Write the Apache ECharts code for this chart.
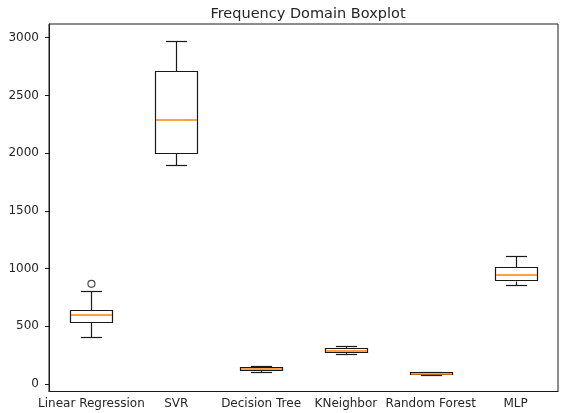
<!DOCTYPE html>
<html>
<head>
<meta charset="utf-8">
<script src="https://cdn.jsdelivr.net/npm/echarts@6/dist/echarts.min.js"></script>
<style>
  html, body { margin: 0; padding: 0; background: #fff; }
  #main { width: 561px; height: 413px; }
</style>
</head>
<body>
<div id="main"></div>
<script>
// 数据：每个模型的 [下须, Q1, 中位数, Q3, 上须]
var models = ['Linear Regression', 'SVR', 'Decision Tree', 'KNeighbor', 'Random Forest', 'MLP'];
var lowWhisker = [403, 1899, 108, 257, 80, 858];
var q1Values = [537, 2006, 122, 280, 82, 895];
var medians = [600, 2284, 134, 290, 88, 947];
var q3Values = [645, 2714, 148, 316, 100, 1011];
var highWhisker = [803, 2970, 155, 332, 104, 1109];
var outliers = [[0, 868]];
var yTicks = [0, 500, 1000, 1500, 2000, 2500, 3000];

var boxData = [];
for (var i = 0; i < models.length; i++) {
	boxData.push([i, lowWhisker[i], q1Values[i], medians[i], q3Values[i], highWhisker[i]]);
}

var fontName = 'DejaVu Sans';
var textColor = '#262626';

// 画箱线图（matplotlib 风格：须端短横线为箱宽一半，中位线橙色）
function renderBox(params, api) {
	var x = api.value(0);
	var low = api.coord([x, api.value(1)]);
	var q1 = api.coord([x, api.value(2)]);
	var med = api.coord([x, api.value(3)]);
	var q3 = api.coord([x, api.value(4)]);
	var high = api.coord([x, api.value(5)]);
	var band = api.size([1, 0])[0];
	var halfBox = band * 0.25;
	var halfCap = band * 0.125;
	var cx = Math.round(low[0]) + 0.5;
	function r(v) { return Math.round(v) + 0.5; }
	var line = { stroke: '#1a1a1a', lineWidth: 1.2, fill: null };
	var left = r(cx - halfBox);
	var w = Math.round(halfBox * 2);
	return {
		type: 'group',
		children: [
			{ type: 'line', shape: { x1: cx, y1: r(q3[1]), x2: cx, y2: r(high[1]) }, style: line },
			{ type: 'line', shape: { x1: cx, y1: r(q1[1]), x2: cx, y2: r(low[1]) }, style: line },
			{ type: 'line', shape: { x1: cx - halfCap, y1: r(high[1]), x2: cx + halfCap, y2: r(high[1]) }, style: line },
			{ type: 'line', shape: { x1: cx - halfCap, y1: r(low[1]), x2: cx + halfCap, y2: r(low[1]) }, style: line },
			{ type: 'rect', shape: { x: left, y: r(q3[1]), width: w, height: Math.round(q1[1] - q3[1]) },
				style: { stroke: '#1a1a1a', lineWidth: 1.2, fill: '#fff' } },
			{ type: 'line', shape: { x1: left + 0.5, y1: Math.round(med[1]), x2: left + w - 0.5, y2: Math.round(med[1]) },
				style: { stroke: '#ff7f0e', lineWidth: 1.6 } }
		]
	};
}

var myChart = echarts.init(document.getElementById('main'));
var option = {
	animation: false,
	title: {
		text: 'Frequency Domain Boxplot',
		left: 303,
		top: 2,
		textAlign: 'center',
		textStyle: { fontFamily: fontName, fontSize: 14.5, fontWeight: 'normal', color: textColor }
	},
	grid: {
		left: 49,
		right: 3,
		top: 24,
		bottom: 21.5,
		show: true,
		borderColor: '#1a1a1a',
		borderWidth: 1,
		backgroundColor: 'transparent'
	},
	xAxis: {
		type: 'category',
		data: models,
		axisLine: { onZero: false, lineStyle: { color: '#1a1a1a', width: 1 } },
		axisTick: { alignWithLabel: true, length: 4, lineStyle: { color: '#1a1a1a' } },
		axisLabel: { margin: 6, fontFamily: fontName, fontSize: 12, color: textColor, interval: 0 },
		splitLine: { show: false }
	},
	yAxis: {
		type: 'value',
		min: -65,
		max: 3119,
		axisLine: { show: true, lineStyle: { color: '#1a1a1a', width: 1 } },
		axisTick: { show: true, length: 4, customValues: yTicks, lineStyle: { color: '#1a1a1a' } },
		axisLabel: {
			margin: 10, fontFamily: fontName, fontSize: 12, color: textColor, customValues: yTicks,
			formatter: function (v) { return String(v); }
		},
		splitLine: { show: false }
	},
	series: [
		{
			type: 'custom',
			renderItem: renderBox,
			data: boxData,
			encode: { x: 0, y: [1, 2, 3, 4, 5] },
			z: 2
		},
		{
			type: 'scatter',
			data: outliers,
			symbol: 'circle',
			symbolSize: 7,
			itemStyle: { color: 'rgba(0,0,0,0)', borderColor: '#1a1a1a', borderWidth: 1.2 },
			z: 3
		}
	]
};
myChart.setOption(option);
</script>
</body>
</html>
